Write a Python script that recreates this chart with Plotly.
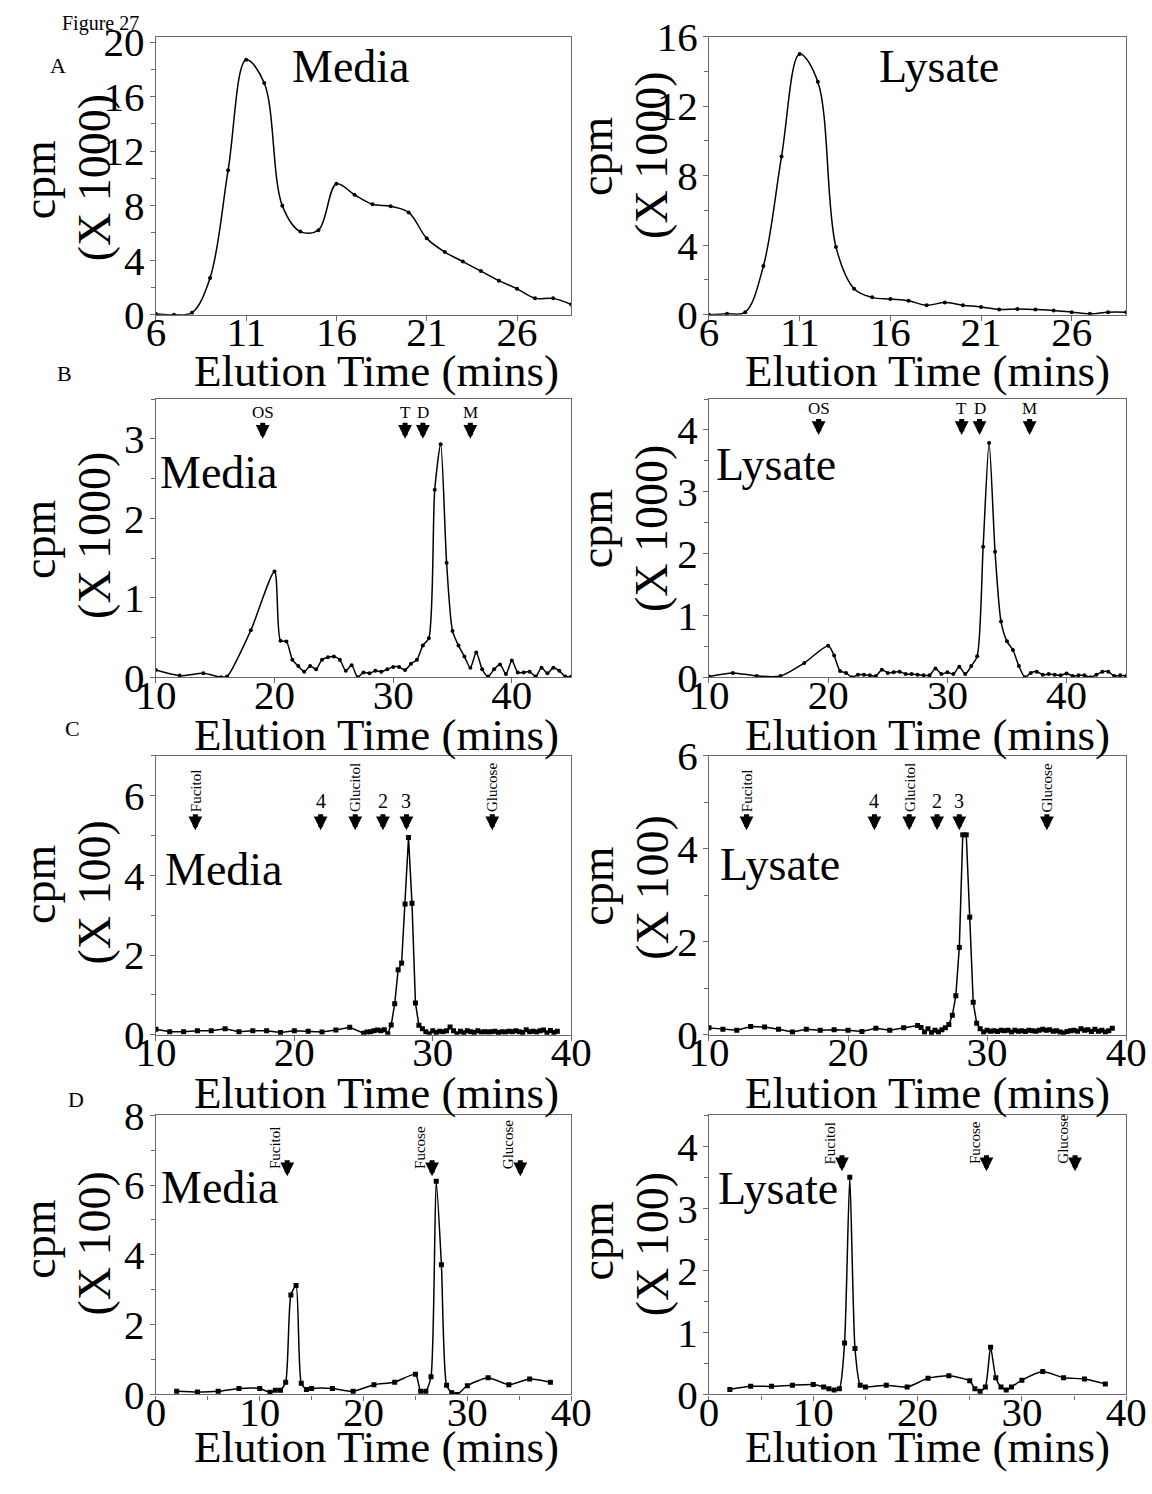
import plotly.graph_objects as go

W, H = 1152, 1494
FONT = "Liberation Serif, Times New Roman, serif"

# ---------------- DATA ----------------
# Panel A (gel filtration) : x = elution time (min)
a_x = [6, 7, 8, 9, 10, 11, 12, 13, 14, 15, 16, 17, 18, 19, 20, 21, 22, 23, 24, 25, 26, 27, 28, 29]
a_media_y = [0.05, 0.0, 0.15, 2.7, 10.6, 18.7, 17.0, 8.0, 6.1, 6.2, 9.6, 8.8, 8.1, 7.95, 7.5, 5.6,
             4.6, 3.9, 3.2, 2.5, 1.9, 1.2, 1.2, 0.75]
a_lysate_y = [0.0, 0.05, 0.15, 2.8, 9.1, 15.0, 13.4, 3.9, 1.5, 1.0, 0.9, 0.8, 0.55, 0.7, 0.55, 0.45,
              0.3, 0.33, 0.3, 0.25, 0.15, 0.05, 0.15, 0.15]

# Panel B
b_media_x = [10, 12, 14, 15.5, 16, 18, 20,
             20.5, 21, 21.5, 22, 22.5, 23, 23.5, 24, 24.5, 25, 25.5, 26, 26.5, 27, 27.5, 28, 28.5, 29, 29.5, 30,
             30.5, 31, 31.5, 32, 32.5, 33, 33.5, 34, 34.5, 35, 35.5, 36, 36.5, 37, 37.5, 38, 38.5, 39, 39.5, 40,
             40.5, 41, 41.5, 42, 42.5, 43, 43.5, 44, 44.5, 45]
b_media_y = [0.09, 0.02, 0.05, 0.0, 0.01, 0.59, 1.33,
             0.46, 0.45, 0.22, 0.14, 0.07, 0.14, 0.1, 0.22, 0.25, 0.26, 0.22, 0.08, 0.15, 0.0, 0.06, 0.05, 0.08, 0.07, 0.1, 0.13,
             0.13, 0.09, 0.17, 0.22, 0.4, 0.49, 2.36, 2.93, 1.44, 0.58, 0.4, 0.26, 0.12, 0.31, 0.1, 0.01, 0.1, 0.16, 0.04, 0.21,
             0.06, 0.06, 0.07, 0.01, 0.12, 0.05, 0.12, 0.08, 0.01, 0.01]
b_lysate_x = [10, 12, 14, 16, 18, 20,
              20.5, 21, 21.5, 22, 22.5, 23, 23.5, 24, 24.5, 25, 25.5, 26, 26.5, 27, 27.5, 28, 28.5, 29, 29.5, 30,
              30.5, 31, 31.5, 32, 32.5, 33, 33.5, 34, 34.5, 35, 35.5, 36, 36.5, 37, 37.5, 38, 38.5, 39, 39.5, 40,
              40.5, 41, 41.5, 42, 42.5, 43, 43.5, 44, 44.5, 45]
b_lysate_y = [0.01, 0.07, 0.02, 0.02, 0.23, 0.51,
              0.35, 0.1, 0.07, 0.0, 0.04, 0.04, 0.03, 0.02, 0.12, 0.07, 0.08, 0.09, 0.05, 0.05, 0.04, 0.03, 0.03, 0.14, 0.05, 0.08,
              0.05, 0.17, 0.05, 0.18, 0.34, 2.11, 3.79, 2.03, 0.9, 0.58, 0.44, 0.18, 0.0, 0.07, 0.09, 0.04, 0.05, 0.04, 0.03, 0.06,
              0.02, 0.03, 0.03, 0.0, 0.04, 0.09, 0.09, 0.02, 0.03, 0.02]
b_marker_labels = ["OS", "T", "D", "M"]
b_media_marker_x = [19.0, 31.0, 32.5, 36.5]
b_lysate_marker_x = [19.2, 31.2, 32.7, 36.9]

# Panel C
c_media_x = [10, 11, 12, 13, 14, 15, 16, 17, 18, 19, 20, 21, 22, 23, 24,
             25, 25.25, 25.5, 25.75, 26, 26.25, 26.5, 26.75, 27, 27.25, 27.5, 27.75, 28, 28.25, 28.5, 28.75,
             29, 29.25, 29.5, 29.75, 30, 30.25, 30.5, 30.75, 31, 31.25, 31.5, 31.75, 32, 32.25, 32.5, 32.75,
             33, 33.25, 33.5, 33.75, 34, 34.25, 34.5, 34.75, 35, 35.25, 35.5, 35.75, 36, 36.25, 36.5, 36.75,
             37, 37.25, 37.5, 37.75, 38, 38.25, 38.5, 38.75, 39]
c_media_y = [0.14, 0.08, 0.08, 0.1, 0.1, 0.15, 0.08, 0.1, 0.1, 0.06, 0.1, 0.09, 0.07, 0.12, 0.19,
             0.04, 0.07, 0.08, 0.1, 0.12, 0.1, 0.13, 0.03, 0.25, 0.78, 1.63, 1.8, 3.28, 4.95, 3.3, 0.8,
             0.24, 0.15, 0.08, 0.03, 0.1, 0.06, 0.09, 0.08, 0.1, 0.2, 0.1, 0.03, 0.09, 0.05, 0.1, 0.08,
             0.06, 0.1, 0.07, 0.08, 0.07, 0.08, 0.09, 0.06, 0.08, 0.07, 0.09, 0.08, 0.1, 0.08, 0.06, 0.13,
             0.08, 0.09, 0.07, 0.1, 0.12, 0.05, 0.11, 0.06, 0.09]
c_lysate_x = [10, 11, 12, 13, 14, 15, 16, 17, 18, 19, 20, 21, 22, 23, 24, 25,
              25.25, 25.5, 25.75, 26, 26.25, 26.5, 26.75, 27, 27.25, 27.5, 27.75, 28, 28.25, 28.5, 28.75,
              29, 29.25, 29.5, 29.75, 30, 30.25, 30.5, 30.75, 31, 31.25, 31.5, 31.75, 32, 32.25, 32.5, 32.75,
              33, 33.25, 33.5, 33.75, 34, 34.25, 34.5, 34.75, 35, 35.25, 35.5, 35.75, 36, 36.25, 36.5, 36.75,
              37, 37.25, 37.5, 37.75, 38, 38.25, 38.5, 38.75, 39]
c_lysate_y = [0.15, 0.12, 0.1, 0.18, 0.17, 0.12, 0.06, 0.12, 0.1, 0.11, 0.1, 0.07, 0.14, 0.1, 0.15, 0.2,
              0.16, 0.06, 0.13, 0.05, 0.1, 0.06, 0.11, 0.15, 0.22, 0.42, 0.84, 1.88, 4.3, 4.3, 2.53,
              0.7, 0.25, 0.13, 0.06, 0.1, 0.08, 0.09, 0.07, 0.1, 0.09, 0.1, 0.06, 0.1, 0.08, 0.09, 0.07,
              0.1, 0.09, 0.08, 0.1, 0.12, 0.1, 0.11, 0.08, 0.09, 0.06, 0.04, 0.07, 0.09, 0.1, 0.08, 0.13,
              0.1, 0.11, 0.07, 0.12, 0.08, 0.1, 0.06, 0.09, 0.14]
c_marker_labels = ["Fucitol", "4", "Glucitol", "2", "3", "Glucose"]
c_media_marker_x = [12.85, 21.9, 24.4, 26.4, 28.1, 34.3]
c_lysate_marker_x = [12.7, 21.9, 24.4, 26.4, 28.0, 34.3]

# Panel D
d_x = [2, 4, 6, 8, 10, 11, 11.5, 12, 12.5, 13, 13.5, 14, 14.5, 15, 17, 19, 21, 23, 25, 25.5, 26, 26.5,
       27, 27.5, 28, 28.5, 29, 30, 32, 34, 36, 38]
d_media_y = [0.09, 0.07, 0.09, 0.17, 0.17, 0.06, 0.12, 0.12, 0.35, 2.85, 3.12, 0.32, 0.14, 0.17, 0.17, 0.09,
             0.28, 0.35, 0.58, 0.09, 0.09, 0.51, 6.11, 3.72, 0.26, 0.05, 0.0, 0.25, 0.48, 0.28, 0.44, 0.35]
d_lysate_y = [0.08, 0.13, 0.13, 0.15, 0.16, 0.12, 0.09, 0.07, 0.09, 0.83, 3.5, 0.74, 0.15, 0.12, 0.15, 0.12,
              0.26, 0.3, 0.22, 0.09, 0.05, 0.12, 0.76, 0.27, 0.12, 0.07, 0.12, 0.23, 0.37, 0.27, 0.25, 0.17]
d_marker_labels = ["Fucitol", "Fucose", "Glucose"]
d_media_marker_x = [12.65, 26.6, 35.1]
d_lysate_marker_x = [12.75, 26.6, 35.1]

# ---------------- LAYOUT HELPERS ----------------
col_px = [(140, 571), (714, 1147)]
row_px = [(14, 301), (388, 675), (756, 1044), (1127, 1415)]


def fx(p):
    return p / W


def fy(p):
    return 1 - p / H


panels = [
    # row A
    dict(x=a_x, y=a_media_y, xr=[6, 29], xt=[6, 11, 16, 21, 26], xm=None, yr=[0, 20.4], yt=[0, 4, 8, 12, 16, 20], ym=2,
         shape="spline", sm=1.0, sym="circle", ms=4, unit="(X 1000)",
         title="Media", tpos=(342, 45), ycy=(162, 160)),
    dict(x=a_x, y=a_lysate_y, xr=[6, 29], xt=[6, 11, 16, 21, 26], xm=None, yr=[0, 16], yt=[0, 4, 8, 12, 16], ym=2,
         shape="spline", sm=1.0, sym="circle", ms=4, unit="(X 1000)",
         title="Lysate", tpos=(953, 45), ycy=(138, 137)),
    # row B
    dict(x=b_media_x, y=b_media_y, xr=[10, 45], xt=[10, 20, 30, 40], xm=None, yr=[0, 3.5], yt=[0, 1, 2, 3], ym=0.5,
         shape="spline", sm=0.7, sym="circle", ms=4, unit="(X 1000)",
         title="Media", tpos=(205, 464), ycy=(533, 529)),
    dict(x=b_lysate_x, y=b_lysate_y, xr=[10, 45], xt=[10, 20, 30, 40], xm=None, yr=[0, 4.5], yt=[0, 1, 2, 3, 4], ym=0.5,
         shape="spline", sm=0.7, sym="circle", ms=4, unit="(X 1000)",
         title="Lysate", tpos=(784, 456), ycy=(522, 522)),
    # row C
    dict(x=c_media_x, y=c_media_y, xr=[10, 40], xt=[10, 20, 30, 40], xm=None, yr=[0, 7], yt=[0, 2, 4, 6], ym=1,
         shape="linear", sm=0, sym="square", ms=5, unit="(X 100)",
         title="Media", tpos=(211, 873), ycy=(889, 897)),
    dict(x=c_lysate_x, y=c_lysate_y, xr=[10, 40], xt=[10, 20, 30, 40], xm=None, yr=[0, 6], yt=[0, 2, 4, 6], ym=1,
         shape="linear", sm=0, sym="square", ms=5, unit="(X 100)",
         title="Lysate", tpos=(788, 868), ycy=(891, 892)),
    # row D
    dict(x=d_x, y=d_media_y, xr=[0, 40], xt=[0, 10, 20, 30, 40], xm=5, yr=[0, 8], yt=[0, 2, 4, 6, 8], ym=1,
         shape="spline", sm=0.6, sym="square", ms=5, unit="(X 100)",
         title="Media", tpos=(207, 1202), ycy=(1255, 1259)),
    dict(x=d_x, y=d_lysate_y, xr=[0, 40], xt=[0, 10, 20, 30, 40], xm=5, yr=[0, 4.5], yt=[0, 1, 2, 3, 4], ym=0.5,
         shape="spline", sm=0.6, sym="square", ms=5, unit="(X 100)",
         title="Lysate", tpos=(786, 1203), ycy=(1257, 1260)),
]

fig = go.Figure()
annotations = []
AX = "#6a6a6a"

for i, p in enumerate(panels):
    n = i + 1
    row, col = divmod(i, 2)
    (cx0, cx1), (ry0, ry1) = col_px[col], row_px[row]
    xa = "xaxis" if n == 1 else f"xaxis{n}"
    ya = "yaxis" if n == 1 else f"yaxis{n}"
    xref = "x" if n == 1 else f"x{n}"
    yref = "y" if n == 1 else f"y{n}"

    fig.add_trace(go.Scatter(
        x=p["x"], y=p["y"], xaxis=xref, yaxis=yref, mode="lines+markers",
        line=dict(color="black", width=1.5, shape=p["shape"], smoothing=p["sm"] if p["shape"] == "spline" else None),
        marker=dict(symbol=p["sym"], size=p["ms"], color="black"),
        showlegend=False, cliponaxis=True,
    ))

    xdict = dict(domain=[fx(cx0), fx(cx1)], anchor=yref, range=p["xr"], tickvals=p["xt"],
                 ticks="outside", ticklen=5, tickwidth=1, tickcolor=AX, ticklabelstandoff=-24,
                 showline=True, mirror=True, linecolor=AX, linewidth=1.2,
                 showgrid=False, zeroline=False,
                 tickfont=dict(family=FONT, size=41, color="black"))
    if p["xm"]:
        xdict["minor"] = dict(dtick=p["xm"], ticks="outside", ticklen=4, tickcolor=AX, showgrid=False)
    ydict = dict(domain=[fy(ry1), fy(ry0)], anchor=xref, range=p["yr"], tickvals=p["yt"],
                 ticks="outside", ticklen=5, tickwidth=1, tickcolor=AX, ticklabelstandoff=-3,
                 showline=True, mirror=True, linecolor=AX, linewidth=1.2,
                 showgrid=False, zeroline=False,
                 minor=dict(dtick=p["ym"], ticks="outside", ticklen=4, tickcolor=AX, showgrid=False),
                 tickfont=dict(family=FONT, size=41, color="black"))
    fig.update_layout({xa: xdict, ya: ydict})

    # panel title (Media / Lysate)
    annotations.append(dict(text=p["title"], x=fx(p["tpos"][0]), y=fy(p["tpos"][1]), xref="paper", yref="paper",
                            showarrow=False, xanchor="center", yanchor="middle",
                            font=dict(family=FONT, size=46, color="black")))
    # y-axis titles (two rotated lines)
    ycx = (19, 76) if col == 0 else (598, 655)
    for txt, cx, cy in [("cpm", ycx[0], p["ycy"][0]), (p["unit"], ycx[1], p["ycy"][1])]:
        annotations.append(dict(text=txt, x=fx(cx), y=fy(cy), xref="paper", yref="paper", textangle=-90,
                                showarrow=False, xanchor="center", yanchor="middle",
                                font=dict(family=FONT, size=46, color="black")))
    # x-axis title
    xtcx = 369 if col == 0 else 941
    xtcy = [359, 735, 1104, 1469][row]
    annotations.append(dict(text="Elution Time (mins)", x=fx(xtcx), y=fy(xtcy), xref="paper", yref="paper",
                            showarrow=False, xanchor="center", yanchor="middle",
                            font=dict(family=FONT, size=45, color="black")))


def add_markers(n, xs, labels, tip, style):
    xref = "x" if n == 1 else f"x{n}"
    yref = "y" if n == 1 else f"y{n}"
    for mx, lab in zip(xs, labels):
        annotations.append(dict(text=" ", x=mx, y=tip, xref=xref, yref=yref, showarrow=True,
                                arrowhead=2, arrowsize=0.55, arrowwidth=5, arrowcolor="black",
                                ax=0, ay=-18, font=dict(size=1)))
        if style == "B":
            annotations.append(dict(text=lab, x=mx, y=tip, xref=xref, yref=yref, showarrow=False,
                                    xanchor="center", yanchor="bottom", yshift=15,
                                    font=dict(family=FONT, size=17, color="black")))
        elif style == "C":
            rot = len(lab) > 1
            annotations.append(dict(text=lab, x=mx, y=tip, xref=xref, yref=yref, showarrow=False,
                                    xanchor="center", yanchor="bottom", yshift=16,
                                    textangle=-90 if rot else 0,
                                    font=dict(family=FONT, size=15 if rot else 20, color="black")))
        else:  # D
            annotations.append(dict(text=lab, x=mx, y=tip, xref=xref, yref=yref, showarrow=False,
                                    xanchor="right", yanchor="bottom", xshift=-2, yshift=5,
                                    textangle=-90,
                                    font=dict(family=FONT, size=15, color="black")))


add_markers(3, b_media_marker_x, b_marker_labels, 3.0, "B")
add_markers(4, b_lysate_marker_x, b_marker_labels, 3.92, "B")
add_markers(5, c_media_marker_x, c_marker_labels, 5.13, "C")
add_markers(6, c_lysate_marker_x, c_marker_labels, 4.4, "C")
add_markers(7, d_media_marker_x, d_marker_labels, 6.25, "D")
add_markers(8, d_lysate_marker_x, d_marker_labels, 3.6, "D")

# panel letters and figure label
for lab, px, py in [("A", 38, 44), ("B", 45, 362), ("C", 53, 728), ("D", 57, 1111)]:
    annotations.append(dict(text=lab, x=fx(px), y=fy(py), xref="paper", yref="paper", showarrow=False,
                            xanchor="center", yanchor="middle", font=dict(family=FONT, size=22, color="black")))
annotations.append(dict(text="Figure 27", x=fx(82), y=fy(0), xref="paper", yref="paper", showarrow=False,
                        xanchor="center", yanchor="middle", font=dict(family=FONT, size=20, color="black")))

fig.update_layout(
    width=W, height=H, autosize=False,
    margin=dict(l=0, r=0, t=0, b=0),
    paper_bgcolor="white", plot_bgcolor="white",
    annotations=annotations,
    font=dict(family=FONT, color="black"),
)

fig.write_html("out.html")
